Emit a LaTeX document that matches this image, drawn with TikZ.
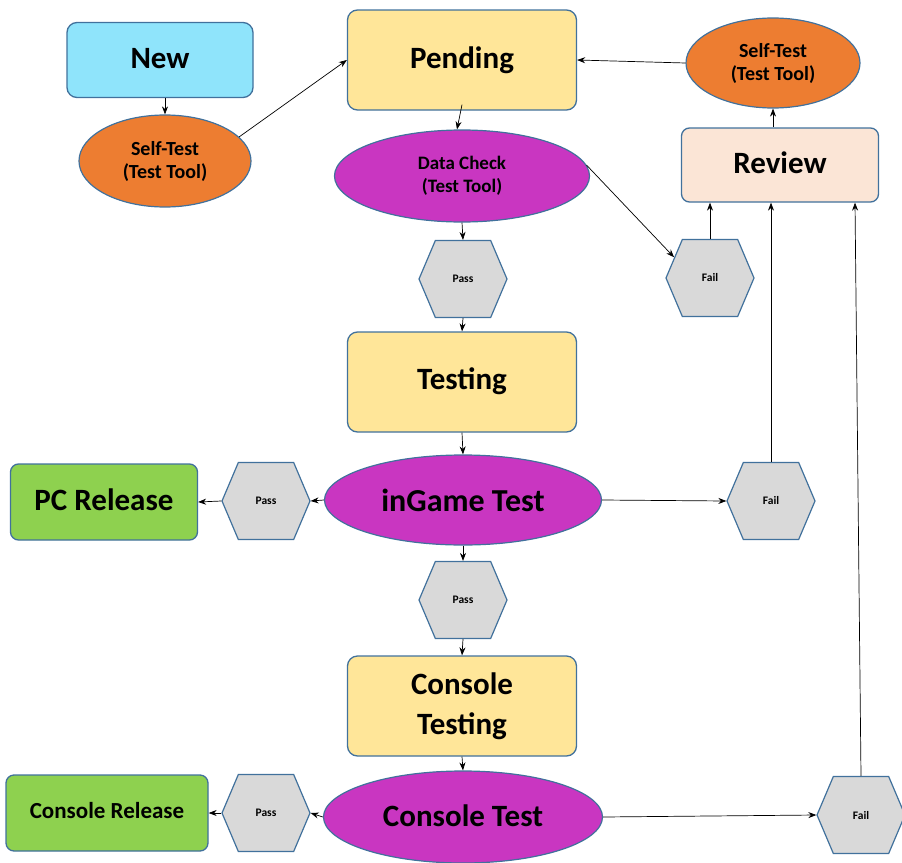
\documentclass[tikz,border=0pt]{standalone}
\usepackage{fontspec}
\setmainfont{Carlito}
\usetikzlibrary{shapes.geometric,shapes.symbols,arrows.meta}
\definecolor{bordc}{HTML}{41719C}
\definecolor{newc}{HTML}{8FE4FB}
\definecolor{orangec}{HTML}{ED7D31}
\definecolor{magc}{HTML}{C936C1}
\definecolor{yelc}{HTML}{FFE699}
\definecolor{revc}{HTML}{FBE5D6}
\definecolor{greenc}{HTML}{8ED14F}
\definecolor{hexg}{HTML}{D9D9D9}
\newcommand{\rz}[2]{\raisebox{#1pt}{#2}}
\begin{document}
\begin{tikzpicture}[x=1pt,y=-1pt,
  box/.style={draw=bordc, line width=1.3pt, rounded corners=10pt, inner sep=0pt, align=center},
  oval/.style={ellipse, draw=bordc, line width=1.2pt, inner sep=0pt, align=center},
  hexa/.style={signal, signal to=east and west, signal pointer angle=134, draw=bordc, line width=1.2pt, fill=hexg, minimum width=88pt, minimum height=77pt, inner sep=0pt, font=\bfseries\fontsize{11.5}{12}\selectfont},
  conn/.style={-{Stealth[length=8pt,width=6pt]}, line width=0.7pt},
  bigf/.style={font=\bfseries\fontsize{31}{40}\selectfont},
  smallf/.style={font=\bfseries\fontsize{20}{23}\selectfont}]
\useasboundingbox (0,0) rectangle (902,862);
% nodes
\node[box, fill=newc, minimum width=186pt, minimum height=75pt, bigf] (new) at (160,60) {\rz{4}{New}};
\node[oval, fill=orangec, minimum width=172pt, minimum height=92pt, smallf] (st1) at (165,161) {Self-Test\\(Test Tool)};
\node[box, fill=yelc, minimum width=229pt, minimum height=100pt, bigf] (pending) at (462,60) {\rz{5}{Pending}};
\node[oval, fill=magc, minimum width=255pt, minimum height=92pt, font=\bfseries\fontsize{19}{23}\selectfont] (dc) at (462,176) {Data Check\\(Test Tool)};
\node[hexa] (pass1) at (463,279) {Pass};
\node[hexa] (fail1) at (710,278) {Fail};
\node[oval, fill=orangec, minimum width=174pt, minimum height=90pt, smallf] (st2) at (773,63) {Self-Test\\(Test Tool)};
\node[box, fill=revc, rounded corners=8pt, minimum width=197pt, minimum height=74pt, bigf] (review) at (780,165) {\rz{5}{Review}};
\node[box, fill=yelc, minimum width=229pt, minimum height=100pt, bigf] (testing) at (462,382) {\rz{6}{Testing}};
\node[oval, fill=magc, minimum width=277pt, minimum height=90pt, font=\bfseries\fontsize{32}{36}\selectfont] (ingame) at (463,500) {inGame Test};
\node[box, fill=greenc, rounded corners=8pt, minimum width=187pt, minimum height=76pt, bigf] (pcrel) at (104,502) {\rz{5}{PC Release}};
\node[hexa] (passL) at (266,501) {Pass};
\node[hexa] (failM) at (771,501) {Fail};
\node[hexa] (pass2) at (463,600) {Pass};
\node[box, fill=yelc, minimum width=229pt, minimum height=100pt, bigf] (ctesting) at (462,706) {Console\\Testing};
\node[oval, fill=magc, minimum width=279pt, minimum height=92pt, font=\bfseries\fontsize{31}{36}\selectfont] (ctest) at (463,817) {\rz{3}{Console Test}};
\node[box, fill=greenc, rounded corners=8pt, minimum width=202pt, minimum height=76pt, font=\bfseries\fontsize{23}{26}\selectfont] (crel) at (107,813) {\rz{5}{Console Release}};
\node[hexa] (passB) at (266,813) {Pass};
\node[hexa] (failB) at (861,815) {Fail};
% connectors
\draw[conn] ([xshift=5pt]new.south) -- (st1.north);
\draw[conn] (st1.18) -- (pending.west);
\draw[conn] ([yshift=6pt]pending.south) -- ([xshift=-5pt]dc.north);
\draw[conn] (dc.south) -- (pass1.north);
\draw[conn] (dc.5) -- (fail1.150);
\draw[conn] (fail1.north) -- (fail1.north |- review.south);
\draw[conn] (st2.south |- review.north) -- (st2.south);
\draw[conn] (st2.west) -- (pending.east);
\draw[conn] (pass1.south) -- (testing.north);
\draw[conn] (testing.south) -- (ingame.north);
\draw[conn] (ingame.west) -- (passL.east);
\draw[conn] (passL.west) -- (pcrel.east);
\draw[conn] (ingame.east) -- (failM.west);
\draw[conn] (failM.north) -- (failM.north |- review.south);
\draw[conn] (ingame.south) -- (pass2.north);
\draw[conn] (pass2.south) -- (ctesting.north);
\draw[conn] (ctesting.south) -- (ctest.north);
\draw[conn] (ctest.west) -- (passB.east);
\draw[conn] (passB.west) -- (crel.east);
\draw[conn] (ctest.east) -- (failB.west);
\draw[conn] (failB.north) -- ([xshift=-6pt]failB.north |- review.south);
\end{tikzpicture}
\end{document}
